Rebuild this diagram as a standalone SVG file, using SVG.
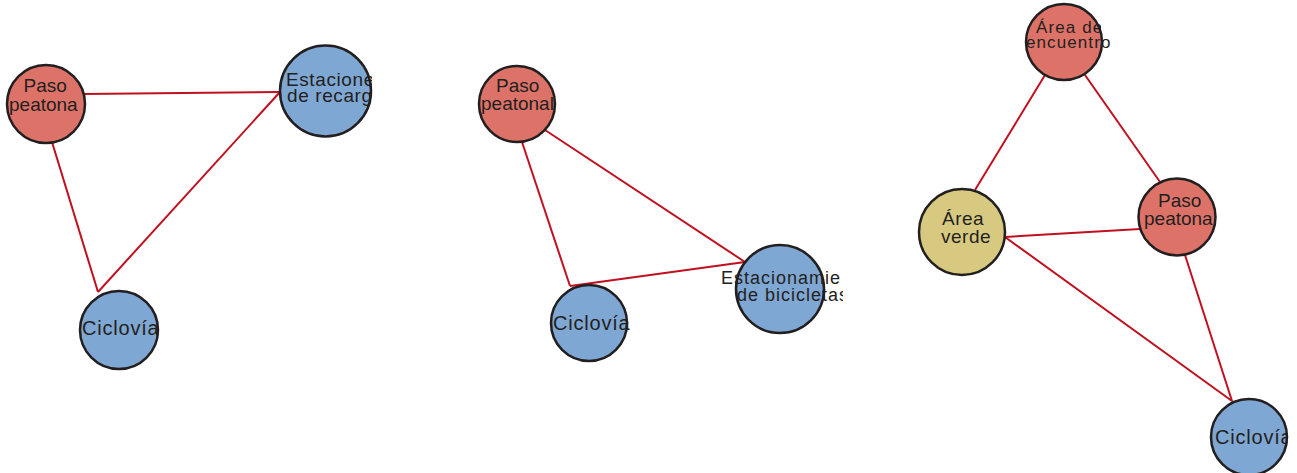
<svg xmlns="http://www.w3.org/2000/svg" width="1297" height="473" viewBox="0 0 1297 473">
<style>
.n{stroke:#231f20;stroke-width:2.5}
.r{fill:#dd7368}.b{fill:#7fa7d3}.y{fill:#d8c980}
.e{stroke:#c0101f;stroke-width:2;fill:none}
text{font-family:"Liberation Sans",Arial,sans-serif;fill:#231f20}
.p{font-size:19px}
.s{font-size:19px;letter-spacing:0.6px}
.t{font-size:18px;letter-spacing:1px}
.c{font-size:20px;letter-spacing:0.8px}
.a{font-size:17px;letter-spacing:1.1px}
</style>
<defs>
<clipPath id="k1"><rect x="0" y="0" width="85" height="200"/></clipPath>
<clipPath id="k2"><rect x="250" y="0" width="122" height="200"/></clipPath>
<clipPath id="k3"><rect x="700" y="200" width="143" height="200"/></clipPath>
<clipPath id="k4"><rect x="1000" y="0" width="101" height="100"/></clipPath>
<clipPath id="k5"><rect x="1120" y="150" width="96" height="120"/></clipPath>
<clipPath id="k6"><rect x="1200" y="380" width="88" height="93"/></clipPath>
</defs>
<g id="connectors">
<line class="e" x1="84" y1="94" x2="280" y2="92"/>
<line class="e" x1="52" y1="142" x2="98" y2="292"/>
<line class="e" x1="280" y1="92" x2="98" y2="292"/>
<line class="e" x1="522" y1="142" x2="570" y2="286"/>
<line class="e" x1="545" y1="130" x2="745" y2="262"/>
<line class="e" x1="570" y1="286" x2="745" y2="262"/>
<line class="e" x1="1045" y1="75" x2="975" y2="190"/>
<line class="e" x1="1085" y1="75" x2="1160" y2="182"/>
<line class="e" x1="1005" y1="237" x2="1140" y2="229"/>
<line class="e" x1="1005" y1="237" x2="1232" y2="401"/>
<line class="e" x1="1185" y1="255" x2="1232" y2="401"/>
</g>
<g id="g1-paso">
<circle class="n r" cx="46" cy="104" r="39"/>
<g clip-path="url(#k1)"><text class="p" x="23.5" y="92">Paso</text><text class="p" x="9" y="111">peatona</text></g>
</g>
<g id="g1-estaciones">
<circle class="n b" cx="325.5" cy="91" r="45.5"/>
<g clip-path="url(#k2)"><text class="s" x="286" y="86">Estacione</text><text class="s" x="287" y="102">de recarg</text></g>
</g>
<g id="g1-ciclovia">
<circle class="n b" cx="119" cy="330" r="39"/>
<text class="c" x="82" y="335">Ciclovía</text>
</g>
<g id="g2-paso">
<circle class="n r" cx="517" cy="104" r="38"/>
<text class="p" x="496" y="92">Paso</text><text class="p" x="481" y="110">peatonal</text>
</g>
<g id="g2-ciclovia">
<circle class="n b" cx="589" cy="323" r="38"/>
<text class="c" x="553" y="330">Ciclovía</text>
</g>
<g id="g2-estacionamiento">
<circle class="n b" cx="780" cy="289" r="44"/>
<g clip-path="url(#k3)"><text class="t" x="721" y="284">Estacionamie</text><text class="t" x="737" y="301">de bicicletas</text></g>
</g>
<g id="g3-encuentro">
<circle class="n r" cx="1064" cy="42" r="38"/>
<g clip-path="url(#k4)"><text class="a" x="1036" y="33">Área de</text></g>
<text class="a" x="1026" y="48">encuentro</text>
</g>
<g id="g3-verde">
<circle class="n y" cx="962" cy="232" r="43"/>
<text class="p" x="942" y="225" style="letter-spacing:0.5px">Área</text>
<text class="p" x="941" y="243" style="letter-spacing:0.5px">verde</text>
</g>
<g id="g3-paso">
<circle class="n r" cx="1177" cy="217" r="38.5"/>
<g clip-path="url(#k5)"><text class="p" x="1158" y="207">Paso</text><text class="p" x="1144" y="225">peatona</text></g>
</g>
<g id="g3-ciclovia">
<circle class="n b" cx="1249" cy="437" r="38"/>
<g clip-path="url(#k6)"><text class="c" x="1215" y="444">Ciclovía</text></g>
</g>
</svg>
